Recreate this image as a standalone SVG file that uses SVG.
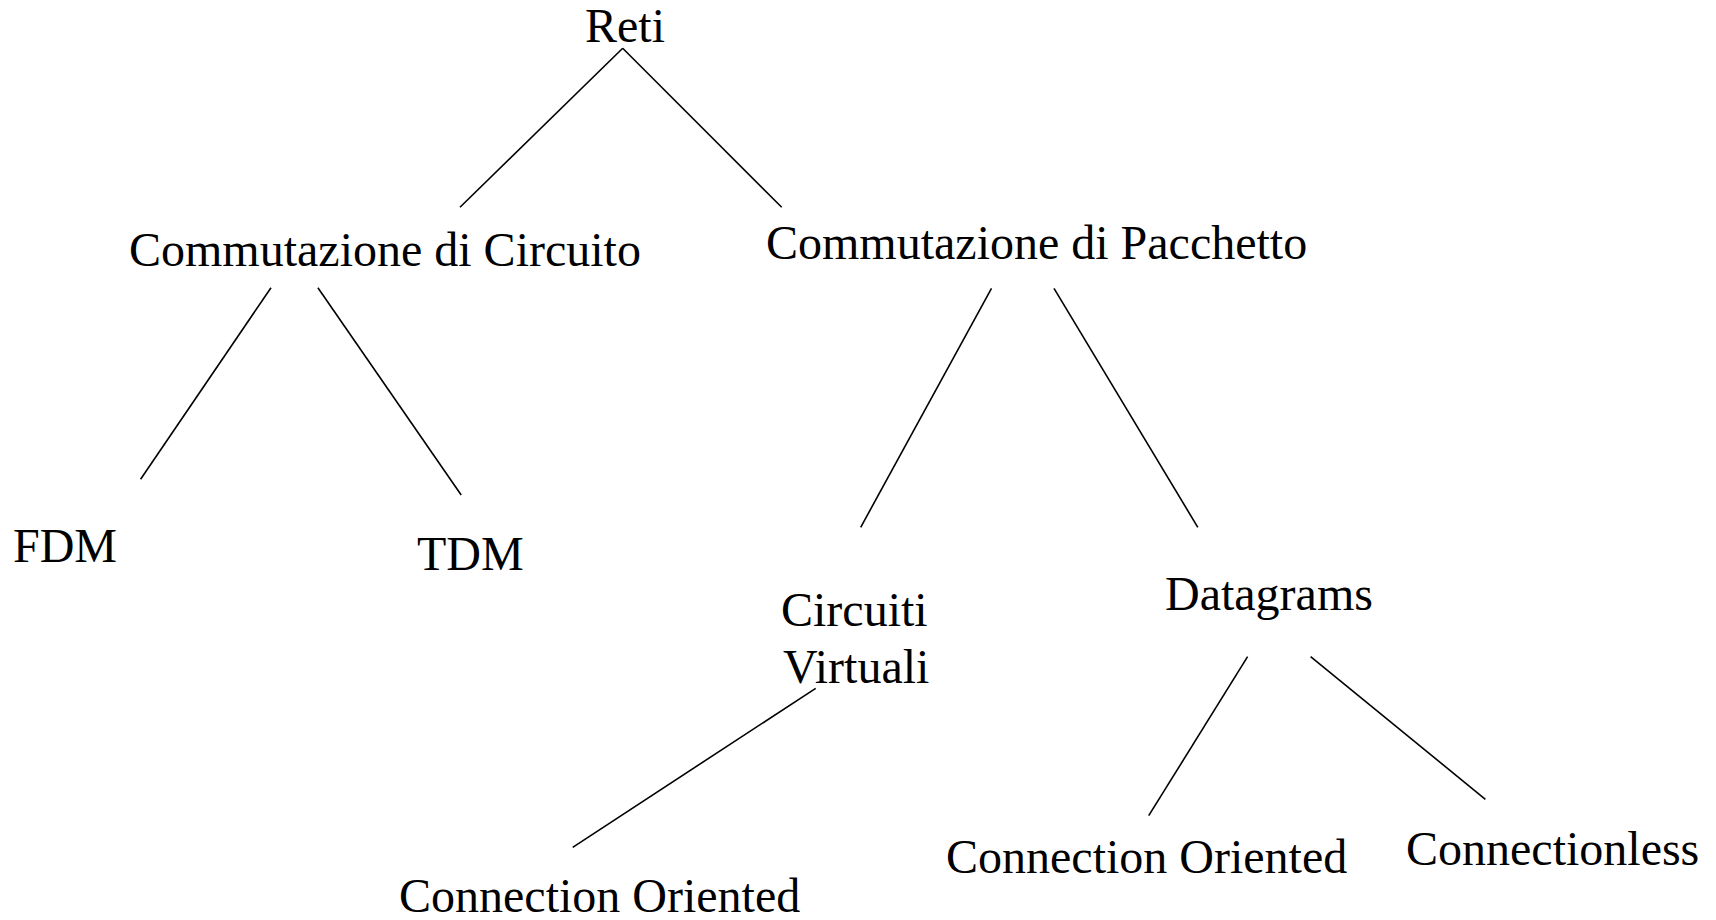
<svg xmlns="http://www.w3.org/2000/svg" width="1716" height="920" viewBox="0 0 1716 920">
<style>
.t{font-family:"Liberation Serif","Times New Roman",serif;font-size:48px;fill:#000}
.c line{stroke:#000;stroke-width:1.6;fill:none}
</style>
<rect width="1716" height="920" fill="#fff"/>
<g class="c" id="connectors">
<line x1="622.7" y1="48.3" x2="460" y2="207.3"/>
<line x1="622.7" y1="48.3" x2="781.7" y2="207.3"/>
<line x1="271" y1="287.7" x2="140.6" y2="479.3"/>
<line x1="317.9" y1="287.7" x2="461.2" y2="495"/>
<line x1="991.5" y1="288.3" x2="860.7" y2="527.3"/>
<line x1="1054" y1="288.3" x2="1197.8" y2="527.3"/>
<line x1="815.7" y1="688.3" x2="572.7" y2="847.3"/>
<line x1="1247.6" y1="656.7" x2="1148.7" y2="815.7"/>
<line x1="1310.6" y1="656.7" x2="1485.4" y2="799.3"/>
</g>
<g id="reti"><text class="t" x="585" y="42">Reti</text></g>
<g id="circuito"><text class="t" x="129" y="266">Commutazione di Circuito</text></g>
<g id="pacchetto"><text class="t" x="766" y="259">Commutazione di Pacchetto</text></g>
<g id="fdm"><text class="t" x="13" y="562">FDM</text></g>
<g id="tdm"><text class="t" x="417" y="570">TDM</text></g>
<g id="virtuali"><text class="t" x="781" y="626">Circuiti</text><text class="t" x="783" y="683">Virtuali</text></g>
<g id="datagrams"><text class="t" x="1165" y="610">Datagrams</text></g>
<g id="co1"><text class="t" x="399" y="912">Connection Oriented</text></g>
<g id="co2"><text class="t" x="946" y="873">Connection Oriented</text></g>
<g id="cl"><text class="t" x="1406" y="865">Connectionless</text></g>
</svg>
